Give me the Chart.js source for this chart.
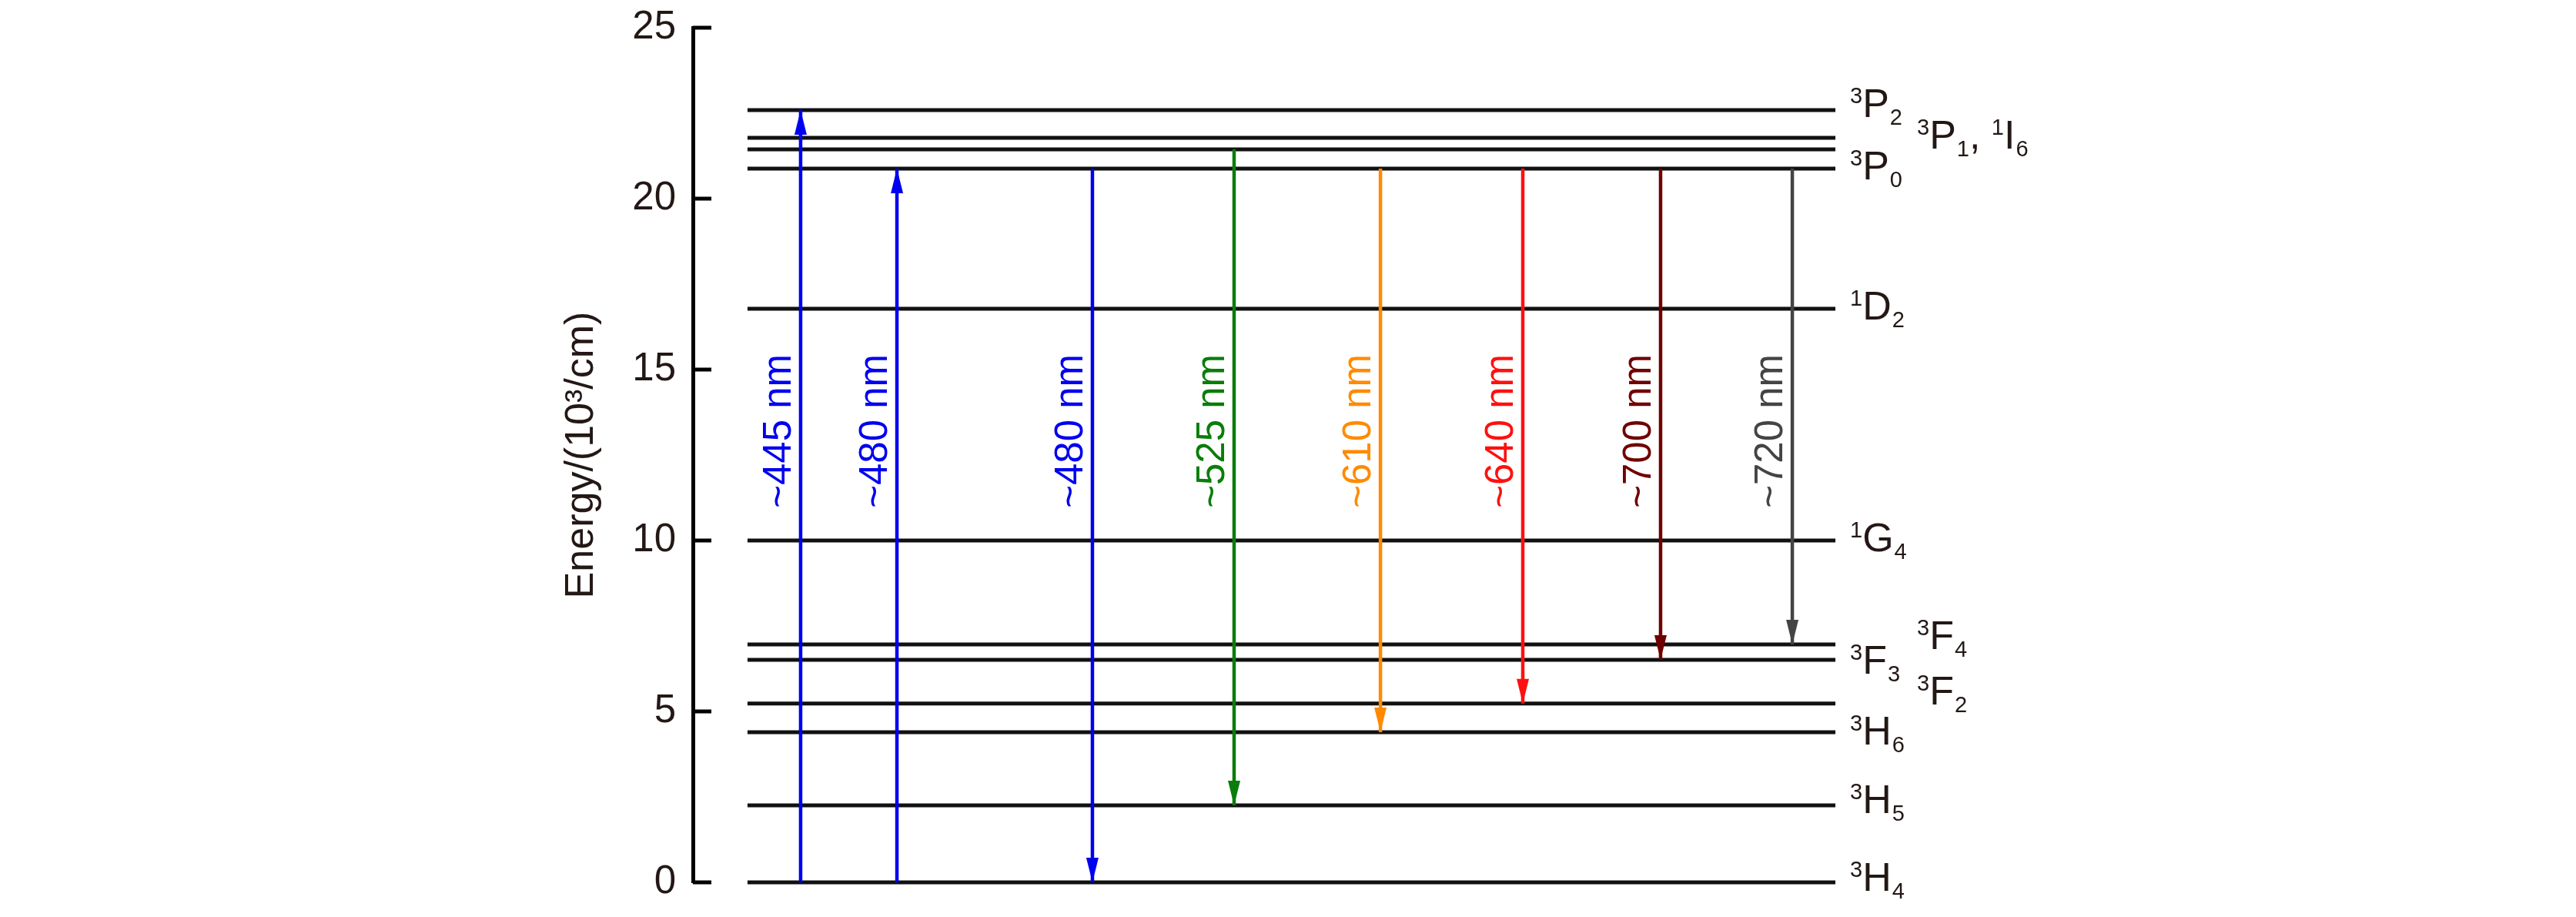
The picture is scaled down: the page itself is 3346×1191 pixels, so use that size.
<!DOCTYPE html>
<html>
<head>
<meta charset="utf-8">
<script src="https://cdn.jsdelivr.net/npm/chart.js@4.4.1/dist/chart.umd.min.js"></script>
<style>
  html, body { margin: 0; padding: 0; background: #fff; }
  #wrap { width: 3346px; height: 1191px; position: relative; }
</style>
</head>
<body>
<div id="wrap"><canvas id="chart"></canvas></div>
<script>
// energy levels (10^3 /cm)
const levelNames = ['3P2', '1I6', '3P1', '3P0', '1D2', '1G4', '3F4', '3F3', '3F2', '3H6', '3H5', '3H4'];
const levelEnergy = [22.59, 21.78, 21.44, 20.88, 16.78, 10.0, 6.96, 6.51, 5.23, 4.39, 2.25, 0];
const levelStart = 4.78;
const levelEnd = 100;

// level labels and the level each one belongs to
const labelTexts = ['3P2', '3P1, 1I6', '3P0', '1D2', '1G4', '3F4', '3F3', '3F2', '3H6', '3H5', '3H4'];
const labelLevels = ['3P2', '3P1', '3P0', '1D2', '1G4', '3F4', '3F3', '3F2', '3H6', '3H5', '3H4'];

// transitions
const arrowLabels = ['~445 nm', '~480 nm', '~480 nm', '~525 nm', '~610 nm', '~640 nm', '~700 nm', '~720 nm'];
const arrowX = [9.43, 17.86, 34.97, 47.37, 60.18, 72.64, 84.70, 96.23];
const arrowFrom = ['3H4', '3H4', '3P0', '3P1', '3P0', '3P0', '3P0', '3P0'];
const arrowTo = ['3P2', '3P0', '3H4', '3H5', '3H6', '3F2', '3F3', '3F4'];
const arrowLabelAt = 13.2;

const yTicks = [0, 5, 10, 15, 20, 25];

// styles
const arrowColors = ['#0000f0', '#0000f0', '#0000f0', '#0a7d0a', '#ff8a00', '#ff1010', '#700000', '#444444'];
const labelColumn = [0, 1, 0, 0, 0, 1, 0, 1, 0, 0, 0];
const labelDy = [9, -1, 14, 14, 14, 6, 18, 1, 16, 10, 11];
const textColor = '#231815';
const FONT = 'Arial, "Liberation Sans", Helvetica, sans-serif';

function energyOf(name) {
    return levelEnergy[levelNames.indexOf(name)];
}

const datasets = [];
arrowLabels.forEach((lab, i) => {
    datasets.push({
        label: lab,
        type: 'line',
        data: [{ x: arrowX[i], y: energyOf(arrowFrom[i]) }, { x: arrowX[i], y: energyOf(arrowTo[i]) }],
        borderColor: arrowColors[i],
        borderWidth: 4.5,
        pointRadius: 0,
        clip: false,
        order: 0
    });
});
levelNames.forEach((name, i) => {
    datasets.push({
        label: name,
        type: 'line',
        data: [{ x: levelStart, y: levelEnergy[i] }, { x: levelEnd, y: levelEnergy[i] }],
        borderColor: '#111111',
        borderWidth: 5,
        pointRadius: 0,
        clip: false,
        order: 1
    });
});

// inward tick marks on the y axis
const innerTicks = {
    id: 'innerTicks',
    afterDraw(chart) {
        const ctx = chart.ctx;
        const y = chart.scales.y;
        const left = chart.chartArea.left;
        ctx.save();
        ctx.strokeStyle = '#000';
        ctx.lineWidth = 5;
        yTicks.forEach(v => {
            const py = y.getPixelForValue(v);
            ctx.beginPath();
            ctx.moveTo(left, py);
            ctx.lineTo(left + 24, py);
            ctx.stroke();
        });
        ctx.restore();
    }
};

// arrow heads and rotated wavelength labels
const arrows = {
    id: 'arrows',
    afterDatasetsDraw(chart) {
        const ctx = chart.ctx;
        const xs = chart.scales.x, ys = chart.scales.y;
        ctx.save();
        arrowLabels.forEach((lab, i) => {
            const px = xs.getPixelForValue(arrowX[i]);
            const y0 = ys.getPixelForValue(energyOf(arrowFrom[i]));
            const y1 = ys.getPixelForValue(energyOf(arrowTo[i]));
            const dir = y1 > y0 ? 1 : -1;
            ctx.fillStyle = arrowColors[i];
            ctx.beginPath();
            ctx.moveTo(px, y1);
            ctx.lineTo(px - 8, y1 - dir * 32);
            ctx.lineTo(px + 8, y1 - dir * 32);
            ctx.closePath();
            ctx.fill();

            ctx.save();
            ctx.translate(px - 13, ys.getPixelForValue(arrowLabelAt));
            ctx.rotate(-Math.PI / 2);
            ctx.font = '51px ' + FONT;
            ctx.textAlign = 'center';
            ctx.textBaseline = 'alphabetic';
            ctx.fillText(lab, 0, 0);
            ctx.restore();
        });
        ctx.restore();
    }
};

// term symbol labels with super- and subscripts
function drawTerm(ctx, text, x, y) {
    const main = '52px ' + FONT, small = '29px ' + FONT;
    const terms = text.split(', ');
    terms.forEach((t, k) => {
        const m = t.match(/^(\d)([A-Z])(\d)$/);
        ctx.font = small;
        ctx.fillText(m[1], x, y - 18);
        x += ctx.measureText(m[1]).width;
        ctx.font = main;
        ctx.fillText(m[2], x, y);
        x += ctx.measureText(m[2]).width + 1;
        ctx.font = small;
        ctx.fillText(m[3], x, y + 10);
        x += ctx.measureText(m[3]).width;
        if (k < terms.length - 1) {
            ctx.font = main;
            ctx.fillText(',', x, y);
            x += ctx.measureText(', ').width;
        }
    });
}

const levelLabels = {
    id: 'levelLabels',
    afterDraw(chart) {
        const ctx = chart.ctx;
        const ys = chart.scales.y;
        const right = chart.chartArea.right;
        ctx.save();
        ctx.fillStyle = textColor;
        ctx.textAlign = 'left';
        ctx.textBaseline = 'alphabetic';
        labelTexts.forEach((t, i) => {
            const x = right + (labelColumn[i] ? 106 : 19);
            const y = ys.getPixelForValue(energyOf(labelLevels[i])) + labelDy[i];
            drawTerm(ctx, t, x, y);
        });
        ctx.restore();
    }
};

new Chart(document.getElementById('chart'), {
    type: 'line',
    data: { datasets: datasets },
    options: {
        responsive: true,
        maintainAspectRatio: false,
        devicePixelRatio: 1,
        animation: false,
        layout: { padding: { left: 720, right: 962, top: 36, bottom: 45 } },
        plugins: { legend: { display: false }, tooltip: { enabled: false } },
        scales: {
            x: { type: 'linear', min: 0, max: 100, display: false },
            y: {
                type: 'linear',
                min: 0,
                max: 25,
                afterFit(scale) { scale.width = 180; },
                afterBuildTicks(scale) { scale.ticks = yTicks.map(v => ({ value: v })); },
                grid: {
                    display: true,
                    drawOnChartArea: false,
                    drawTicks: true,
                    tickLength: 22,
                    tickColor: 'rgba(0,0,0,0)'
                },
                border: { display: true, width: 5, color: '#000' },
                ticks: { padding: 0, color: textColor, font: { family: FONT, size: 51 } },
                title: {
                    display: true,
                    text: 'Energy/(10³/cm)',
                    color: textColor,
                    font: { family: FONT, size: 52 }
                }
            }
        }
    },
    plugins: [innerTicks, arrows, levelLabels]
});
</script>
</body>
</html>
